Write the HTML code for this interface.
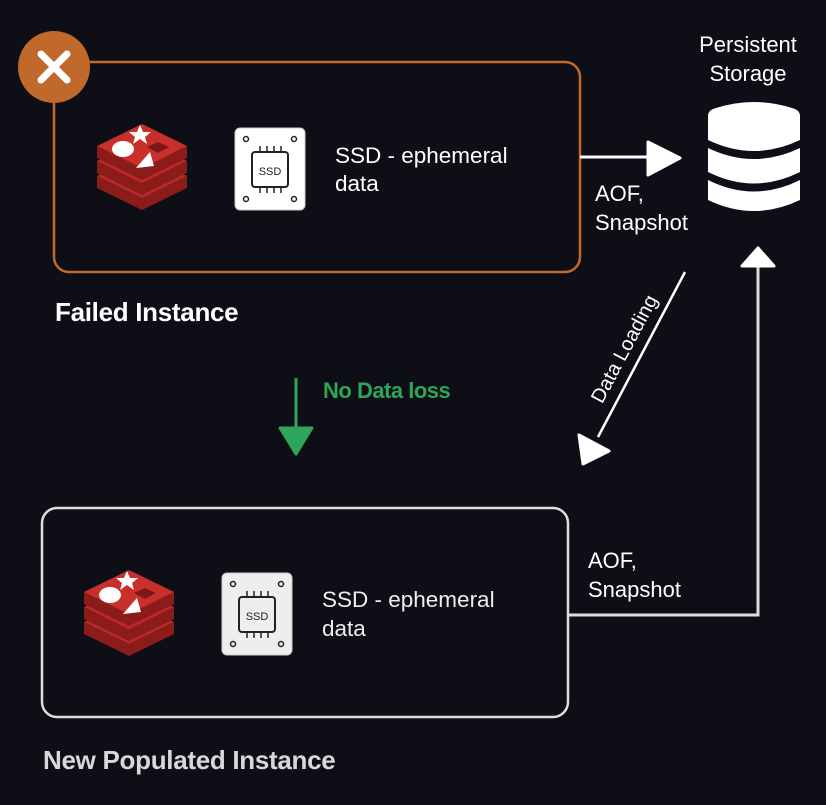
<!DOCTYPE html>
<html><head><meta charset="utf-8"><style>
html,body{margin:0;padding:0;background:#0e0e16;}
svg{display:block}
text{font-family:"Liberation Sans",sans-serif;}
</style></head><body>
<svg width="826" height="805" viewBox="0 0 826 805" xmlns="http://www.w3.org/2000/svg">
<rect width="826" height="805" fill="#0e0e16"/>
<!-- Failed box -->
<rect x="54" y="62" width="526" height="210" rx="15" fill="none" stroke="#c0692a" stroke-width="2.5"/>
<circle cx="54" cy="67" r="36" fill="#c0692a"/>
<path d="M41 54 L67 80 M67 54 L41 80" stroke="#fff" stroke-width="7" stroke-linecap="round"/>

<!-- Redis icon top -->
<g>
<g transform="translate(0,30)"><polygon points="97,146 142,168 187,146 187,158 142,180 97,158" fill="#8c1c1a"/><polygon points="142,124 187,146 142,168 97,146" fill="#b82a26"/></g>
<g transform="translate(0,15)"><polygon points="97,146 142,168 187,146 187,158 142,180 97,158" fill="#8c1c1a"/><polygon points="142,124 187,146 142,168 97,146" fill="#b82a26"/></g>
<polygon points="97,146 142,168 187,146 187,158 142,180 97,158" fill="#8c1c1a"/>
<polygon points="142,124 187,146 142,168 97,146" fill="#c8302b"/>
<ellipse cx="123" cy="149" rx="11" ry="8" fill="#fff"/>
<polygon points="140,125 143,132 151,132 145,137 147,144 140,139 133,144 135,137 129,132 137,132" fill="#fff"/>
<polygon points="150,152 136,168 154,166" fill="#fff"/>
<polygon points="158,142 169,147 158,153 147,147" fill="#7e1816"/>
</g>
<!-- SSD top -->
<g>
<rect x="235" y="128" width="70" height="82" rx="5" fill="#fff" stroke="#ccc"/>
<rect x="252" y="152" width="36" height="35" rx="3" fill="none" stroke="#222" stroke-width="2"/>
<text x="270" y="175" font-size="11" text-anchor="middle" fill="#222">SSD</text>
<circle cx="246" cy="139" r="2.5" fill="none" stroke="#222" stroke-width="1.5"/><circle cx="294" cy="139" r="2.5" fill="none" stroke="#222" stroke-width="1.5"/>
<circle cx="246" cy="199" r="2.5" fill="none" stroke="#222" stroke-width="1.5"/><circle cx="294" cy="199" r="2.5" fill="none" stroke="#222" stroke-width="1.5"/>
<path d="M260 146v6M267 146v6M274 146v6M281 146v6M260 187v6M267 187v6M274 187v6M281 187v6" stroke="#222" stroke-width="1.5"/>
</g>
<text x="335" y="163" font-size="22.5" fill="#fff">SSD - ephemeral</text>
<text x="335" y="191" font-size="22.5" fill="#fff">data</text>
<text x="55" y="321" font-size="26" font-weight="bold" fill="#fff" letter-spacing="-0.3">Failed Instance</text>

<!-- arrow right -->
<line x1="580" y1="157" x2="652" y2="157" stroke="#fff" stroke-width="3"/>
<polygon points="648,142 680,158 648,175" fill="#fff" stroke="#fff" stroke-width="3" stroke-linejoin="round"/>
<text x="595" y="201" font-size="22" fill="#fff">AOF,</text>
<text x="595" y="230" font-size="22" fill="#fff">Snapshot</text>

<!-- DB -->
<text x="748" y="52" font-size="22" fill="#fff" text-anchor="middle">Persistent</text>
<text x="748" y="81" font-size="22" fill="#fff" text-anchor="middle">Storage</text>
<path d="M708 116 Q708 110 716 108 Q754 96 792 108 Q800 110 800 116 L800 140 Q754 162 708 140 Z" fill="#fff"/>
<path d="M708 148 Q754 170 800 148 L800 172 Q754 195 708 172 Z" fill="#fff"/>
<path d="M708 180 Q754 203 800 180 L800 200 Q754 222 708 200 Z" fill="#fff"/>

<!-- No data loss -->
<line x1="296" y1="378" x2="296" y2="430" stroke="#2da55a" stroke-width="3"/>
<polygon points="280,428 312,428 296,454" fill="#2da55a" stroke="#2da55a" stroke-width="3" stroke-linejoin="round"/>
<text x="323" y="398" font-size="22" font-weight="bold" fill="#2da55a" letter-spacing="-0.5">No Data loss</text>

<!-- Data loading -->
<line x1="685" y1="272" x2="598" y2="437" stroke="#fff" stroke-width="2.5"/>
<polygon points="579,435 609,451 583,464" fill="#fff" stroke="#fff" stroke-width="3" stroke-linejoin="round"/>
<text transform="translate(630,352) rotate(-62)" font-size="20" fill="#fff" text-anchor="middle">Data Loading</text>

<!-- Bottom box -->
<rect x="42" y="508" width="526" height="209" rx="15" fill="none" stroke="#ddd" stroke-width="2.5"/>
<g transform="translate(-13,446)">
<g transform="translate(0,30)"><polygon points="97,146 142,168 187,146 187,158 142,180 97,158" fill="#8c1c1a"/><polygon points="142,124 187,146 142,168 97,146" fill="#b82a26"/></g>
<g transform="translate(0,15)"><polygon points="97,146 142,168 187,146 187,158 142,180 97,158" fill="#8c1c1a"/><polygon points="142,124 187,146 142,168 97,146" fill="#b82a26"/></g>
<polygon points="97,146 142,168 187,146 187,158 142,180 97,158" fill="#8c1c1a"/>
<polygon points="142,124 187,146 142,168 97,146" fill="#c8302b"/>
<ellipse cx="123" cy="149" rx="11" ry="8" fill="#fff"/>
<polygon points="140,125 143,132 151,132 145,137 147,144 140,139 133,144 135,137 129,132 137,132" fill="#fff"/>
<polygon points="150,152 136,168 154,166" fill="#fff"/>
<polygon points="158,142 169,147 158,153 147,147" fill="#7e1816"/>
</g>
<g transform="translate(-13,445)">
<rect x="235" y="128" width="70" height="82" rx="5" fill="#eee" stroke="#ccc"/>
<rect x="252" y="152" width="36" height="35" rx="3" fill="none" stroke="#222" stroke-width="2"/>
<text x="270" y="175" font-size="11" text-anchor="middle" fill="#222">SSD</text>
<circle cx="246" cy="139" r="2.5" fill="none" stroke="#222" stroke-width="1.5"/><circle cx="294" cy="139" r="2.5" fill="none" stroke="#222" stroke-width="1.5"/>
<circle cx="246" cy="199" r="2.5" fill="none" stroke="#222" stroke-width="1.5"/><circle cx="294" cy="199" r="2.5" fill="none" stroke="#222" stroke-width="1.5"/>
<path d="M260 146v6M267 146v6M274 146v6M281 146v6M260 187v6M267 187v6M274 187v6M281 187v6" stroke="#222" stroke-width="1.5"/>
</g>
<text x="322" y="607" font-size="22.5" fill="#eee">SSD - ephemeral</text>
<text x="322" y="636" font-size="22.5" fill="#eee">data</text>
<text x="43" y="769" font-size="26" font-weight="bold" fill="#d8d8d8" letter-spacing="-0.3">New Populated Instance</text>

<!-- return arrow -->
<text x="588" y="568" font-size="22" fill="#fff">AOF,</text>
<text x="588" y="597" font-size="22" fill="#fff">Snapshot</text>
<polyline points="568,615 758,615 758,265" fill="none" stroke="#ddd" stroke-width="3"/>
<polygon points="742,266 774,266 758,248" fill="#fff" stroke="#fff" stroke-width="3" stroke-linejoin="round"/>
</svg>
</body></html>
